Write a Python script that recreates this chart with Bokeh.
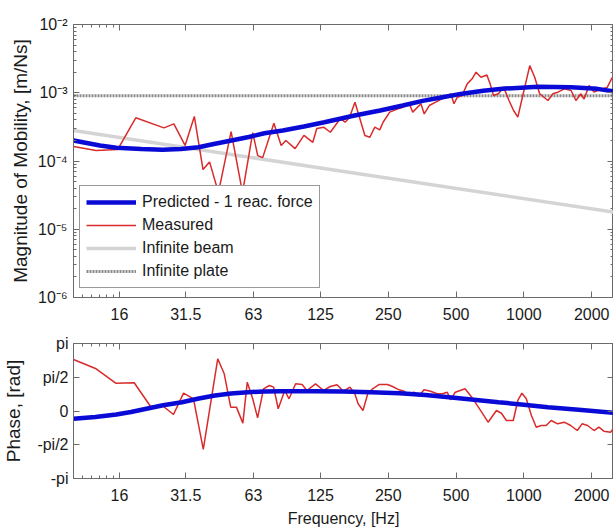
from bokeh.plotting import figure
from bokeh.models import (FixedTicker, LogAxis, LinearAxis, Legend, LegendItem, Range1d,
                          CustomJSTickFormatter)
from bokeh.layouts import column
from bokeh.embed import file_html
from bokeh.resources import INLINE

# ---------------- data ----------------
x_ticks = [16, 31.5, 63, 125, 250, 500, 1000, 2000]
x_tick_labels = ["16", "31.5", "63", "125", "250", "500", "1000", "2000"]
x_minor = [11, 12, 13, 14, 15]

y_ticks = [1e-6, 1e-5, 1e-4, 1e-3, 1e-2]
y_tick_labels = ["10\u207b\u2076", "10\u207b\u2075", "10\u207b\u2074", "10\u207b\u00b3", "10\u207b\u00b2"]

ph_ticks = [-1, -0.5, 0, 0.5, 1]
ph_tick_labels = ["-pi", "-pi/2", "0", "pi/2", "pi"]

freq_meas = [10, 12.6, 15.7, 18.9, 25.2, 27.9, 31.3, 34.4, 37.6, 40.2,
             44.0, 50.1, 56.3, 62.5, 65.8, 69.2, 77.6, 83.6, 87.7, 96.4,
             105.5, 115.5, 120.3, 129, 138.2, 145.4, 152.9, 160.8, 168, 177.8,
             184, 196.8, 207, 217.8, 229, 237, 253.6, 276, 290, 310,
             320.9, 349, 361, 380, 406, 427.6, 449.8, 473, 489.5, 506,
             532, 560, 589, 613, 645, 685, 708, 733, 771, 813,
             859, 900, 940, 993, 1062, 1117, 1175, 1279, 1346, 1416,
             1514, 1620, 1703, 1791, 1851, 1947, 2048, 2229, 2344, 2466]
mag_meas = [1.63e-4, 1.43e-4, 1.47e-4, 4.3e-4, 3.06e-4, 3.5e-4, 1.69e-4, 4.5e-4, 7.5e-5, 9.7e-5,
            3.45e-5, 2.7e-4, 3.45e-5, 2.6e-4, 1.2e-4, 1.12e-4, 3.58e-4, 1.69e-4, 2.0e-4, 1.52e-4,
            2.37e-4, 1.88e-4, 2.99e-4, 3.13e-4, 2.64e-4, 3.31e-4, 4.2e-4, 3.7e-4, 4.34e-4, 7.27e-4,
            4.97e-4, 2.37e-4, 2.23e-4, 3.13e-4, 2.86e-4, 3.7e-4, 5.2e-4, 5.8e-4, 6.14e-4, 6.9e-4,
            5.2e-4, 6.9e-4, 4.9e-4, 6.5e-4, 7.3e-4, 8.0e-4, 8.6e-4, 9.66e-4, 6.9e-4, 8.6e-4,
            9.1e-4, 1.35e-3, 1.6e-3, 2.0e-3, 1.69e-3, 1.82e-3, 1.35e-3, 9.1e-4, 9.66e-4, 1.21e-3,
            7.7e-4, 5.5e-4, 4.4e-4, 9.66e-4, 2.5e-3, 1.69e-3, 9.66e-4, 7.7e-4, 9.66e-4, 1.02e-3,
            1.14e-3, 1.08e-3, 7.7e-4, 9.66e-4, 8.1e-4, 1.28e-3, 1.02e-3, 1.14e-3, 1.2e-3, 1.67e-3]

freq_pred = [10, 13.1, 15.5, 20, 24.8, 30, 35.9, 42, 50.3, 60, 70.4, 85, 105.5, 130,
             175, 230, 290, 355, 435, 532, 660, 824, 1156, 1620, 2118, 2500]
mag_pred = [2.0e-4, 1.69e-4, 1.56e-4, 1.5e-4, 1.46e-4, 1.5e-4, 1.59e-4, 1.77e-4, 2.0e-4, 2.25e-4,
            2.55e-4, 2.8e-4, 3.2e-4, 3.7e-4, 4.6e-4, 5.5e-4, 6.5e-4, 7.6e-4, 8.6e-4, 9.7e-4,
            1.07e-3, 1.15e-3, 1.22e-3, 1.2e-3, 1.14e-3, 1.05e-3]

freq_beam = [10, 125, 2500]
mag_beam = [2.8e-4, 7.9e-5, 1.78e-5]

freq_plate = [10, 2500]
mag_plate = [9e-4, 9e-4]

# phase in units of pi
freq_ph_meas = [10, 12.6, 15.4, 18.6, 22.0, 24.8, 27.8, 30.8, 34.1, 37.7,
                43.7, 46.7, 49.9, 52.9, 56.5, 59.1, 62.5, 65.7, 69.8, 74.1,
                77.4, 81.1, 86.7, 90.6, 96.9, 103.5, 108.8, 118.8, 129.1, 138.2,
                148, 158, 168.9, 177.5, 183.6, 193, 202.6, 212.9, 228, 248,
                261, 279, 294, 309, 325, 342, 360, 385, 412, 435,
                457, 472, 496, 521, 548, 587, 628, 694, 755, 795,
                836, 897, 940, 980, 1025, 1080, 1135, 1194, 1256, 1322,
                1412, 1510, 1614, 1726, 1813, 1918, 2048, 2153, 2265, 2426, 2493]
phase_meas = [0.763, 0.625, 0.412, 0.418, 0.067, 0.081, -0.052, 0.264, 0.181, -0.57,
              0.773, 0.551, 0.057, 0.057, -0.180, 0.427, 0.181, -0.101, 0.329, 0.378,
              0.353, 0.033, 0.304, 0.181, 0.403, 0.393, 0.304, 0.403, 0.304, 0.363,
              0.39, 0.293, 0.353, 0.255, 0.107, 0.007, 0.255, 0.329, 0.393, 0.393,
              0.363, 0.314, 0.293, 0.230, 0.279, 0.219, 0.314, 0.293, 0.255, 0.255,
              0.279, 0.166, 0.279, 0.304, 0.329, 0.205, 0.057, -0.166, 0.007, -0.033,
              -0.141, -0.141, 0.156, 0.264, 0.181, -0.067, -0.240, -0.215, -0.215, -0.141,
              -0.190, -0.166, -0.215, -0.289, -0.190, -0.215, -0.289, -0.240, -0.299, -0.314, -0.264]

freq_ph_pred = [10, 12.5, 15.5, 18, 21.6, 25, 30.3, 36, 42.5, 50, 59.5, 70, 83.4, 116.7,
                157, 210, 280.5, 365, 465, 600, 771, 1000, 1279, 1750, 2500]
phase_pred = [-0.116, -0.09, -0.052, -0.015, 0.041, 0.085, 0.130, 0.185, 0.230, 0.26,
              0.279, 0.288, 0.293, 0.293, 0.289, 0.279, 0.264, 0.238, 0.205, 0.168,
              0.130, 0.094, 0.057, 0.018, -0.027]

# ---------------- style ----------------
FONT = "Liberation Sans"
AXC = "#6a6a6a"
BLUE = "#0a0ad6"
RED = "#d92b2b"
BEAM = "#d4d4d4"
PLATE = "#8a8a8a"


def style_axis(ax, show_labels=True, size="16px", standoff=8):
    ax.axis_line_color = AXC
    ax.major_tick_line_color = AXC
    ax.minor_tick_line_color = AXC
    ax.major_tick_in = 6
    ax.major_tick_out = 0
    ax.minor_tick_in = 3
    ax.minor_tick_out = 0
    ax.major_label_text_font = FONT
    ax.major_label_text_color = "#1a1a1a"
    ax.axis_label_text_font = FONT
    ax.axis_label_text_font_style = "normal"
    ax.axis_label_text_color = "#1a1a1a"
    ax.major_label_text_font_size = size
    if show_labels:
        ax.major_label_standoff = standoff
    else:
        ax.formatter = CustomJSTickFormatter(code="return '';")
        ax.major_label_standoff = 0


x_over = dict(zip(x_ticks, x_tick_labels))
y_over = dict(zip(y_ticks, y_tick_labels))
ph_over = dict(zip(ph_ticks, ph_tick_labels))
y_minor = [m * 10.0 ** e for e in range(-6, -2) for m in range(2, 10)]

# ---------------- magnitude plot ----------------
p1 = figure(width=613, height=330, x_axis_type="log", y_axis_type="log",
            x_range=Range1d(10, 2500), y_range=Range1d(1e-6, 1e-2),
            output_backend="svg", toolbar_location=None,
            min_border_left=67, min_border_right=0, min_border_top=24, min_border_bottom=33)
p1.outline_line_color = AXC
p1.xgrid.visible = False
p1.ygrid.visible = False
p1.background_fill_color = "white"
p1.border_fill_color = "white"

p1.xaxis[0].ticker = FixedTicker(ticks=x_ticks, minor_ticks=x_minor)
p1.xaxis[0].major_label_overrides = x_over
style_axis(p1.xaxis[0], True, "16px", 10)
p1.yaxis[0].ticker = FixedTicker(ticks=y_ticks, minor_ticks=y_minor)
p1.yaxis[0].major_label_overrides = y_over
style_axis(p1.yaxis[0], True, "16px", 6)
p1.yaxis[0].axis_label = "Magnitude of Mobility, [m/Ns]"
p1.yaxis[0].axis_label_text_font_size = "19px"
p1.yaxis[0].axis_label_standoff = 4

ax_top = LogAxis(ticker=FixedTicker(ticks=x_ticks, minor_ticks=x_minor))
style_axis(ax_top, False)
p1.add_layout(ax_top, "above")
ax_right = LogAxis(ticker=FixedTicker(ticks=y_ticks, minor_ticks=y_minor))
style_axis(ax_right, False)
p1.add_layout(ax_right, "right")

r_beam = p1.line(freq_beam, mag_beam, line_color=BEAM, line_width=3.5)
r_plate = p1.line(freq_plate, mag_plate, line_color=PLATE, line_width=3, line_dash="2 1")
r_meas = p1.line(freq_meas, mag_meas, line_color=RED, line_width=1.5)
r_pred = p1.line(freq_pred, mag_pred, line_color=BLUE, line_width=4.5)

legend = Legend(items=[
    LegendItem(label="Predicted - 1 reac. force", renderers=[r_pred]),
    LegendItem(label="Measured", renderers=[r_meas]),
    LegendItem(label="Infinite beam", renderers=[r_beam]),
    LegendItem(label="Infinite plate", renderers=[r_plate]),
], location=(6, 9))
legend.label_text_font = FONT
legend.label_text_font_size = "16px"
legend.label_text_color = "#1a1a1a"
legend.glyph_width = 50
legend.glyph_height = 20
legend.label_height = 20
legend.spacing = 3
legend.padding = 6
legend.margin = 0
legend.label_standoff = 6
legend.border_line_color = "#333333"
legend.border_line_width = 1
legend.background_fill_color = "white"
legend.background_fill_alpha = 1.0
p1.add_layout(legend)

# ---------------- phase plot ----------------
p2 = figure(width=613, height=202, x_axis_type="log",
            x_range=p1.x_range, y_range=Range1d(-1, 1),
            output_backend="svg", toolbar_location=None,
            min_border_left=67, min_border_right=0, min_border_top=13, min_border_bottom=54)
p2.outline_line_color = AXC
p2.xgrid.visible = False
p2.ygrid.visible = False

p2.xaxis[0].ticker = FixedTicker(ticks=x_ticks, minor_ticks=x_minor)
p2.xaxis[0].major_label_overrides = x_over
style_axis(p2.xaxis[0], True, "16px", 10)
p2.xaxis[0].axis_label = "Frequency, [Hz]"
p2.xaxis[0].axis_label_text_font_size = "16px"
p2.xaxis[0].axis_label_standoff = 6

p2.yaxis[0].ticker = FixedTicker(ticks=ph_ticks, minor_ticks=[])
p2.yaxis[0].major_label_overrides = ph_over
style_axis(p2.yaxis[0], True, "16px", 5)
p2.yaxis[0].axis_label = "Phase, [rad]"
p2.yaxis[0].axis_label_text_font_size = "19px"
p2.yaxis[0].axis_label_standoff = 10

ax_top2 = LogAxis(ticker=FixedTicker(ticks=x_ticks, minor_ticks=x_minor))
style_axis(ax_top2, False)
p2.add_layout(ax_top2, "above")
ax_right2 = LinearAxis(ticker=FixedTicker(ticks=ph_ticks, minor_ticks=[]))
style_axis(ax_right2, False)
p2.add_layout(ax_right2, "right")

p2.line(freq_ph_meas, phase_meas, line_color=RED, line_width=1.5)
p2.line(freq_ph_pred, phase_pred, line_color=BLUE, line_width=4.5)

layout = column(p1, p2, spacing=0)
open("out.html", "w").write(file_html(layout, INLINE))
